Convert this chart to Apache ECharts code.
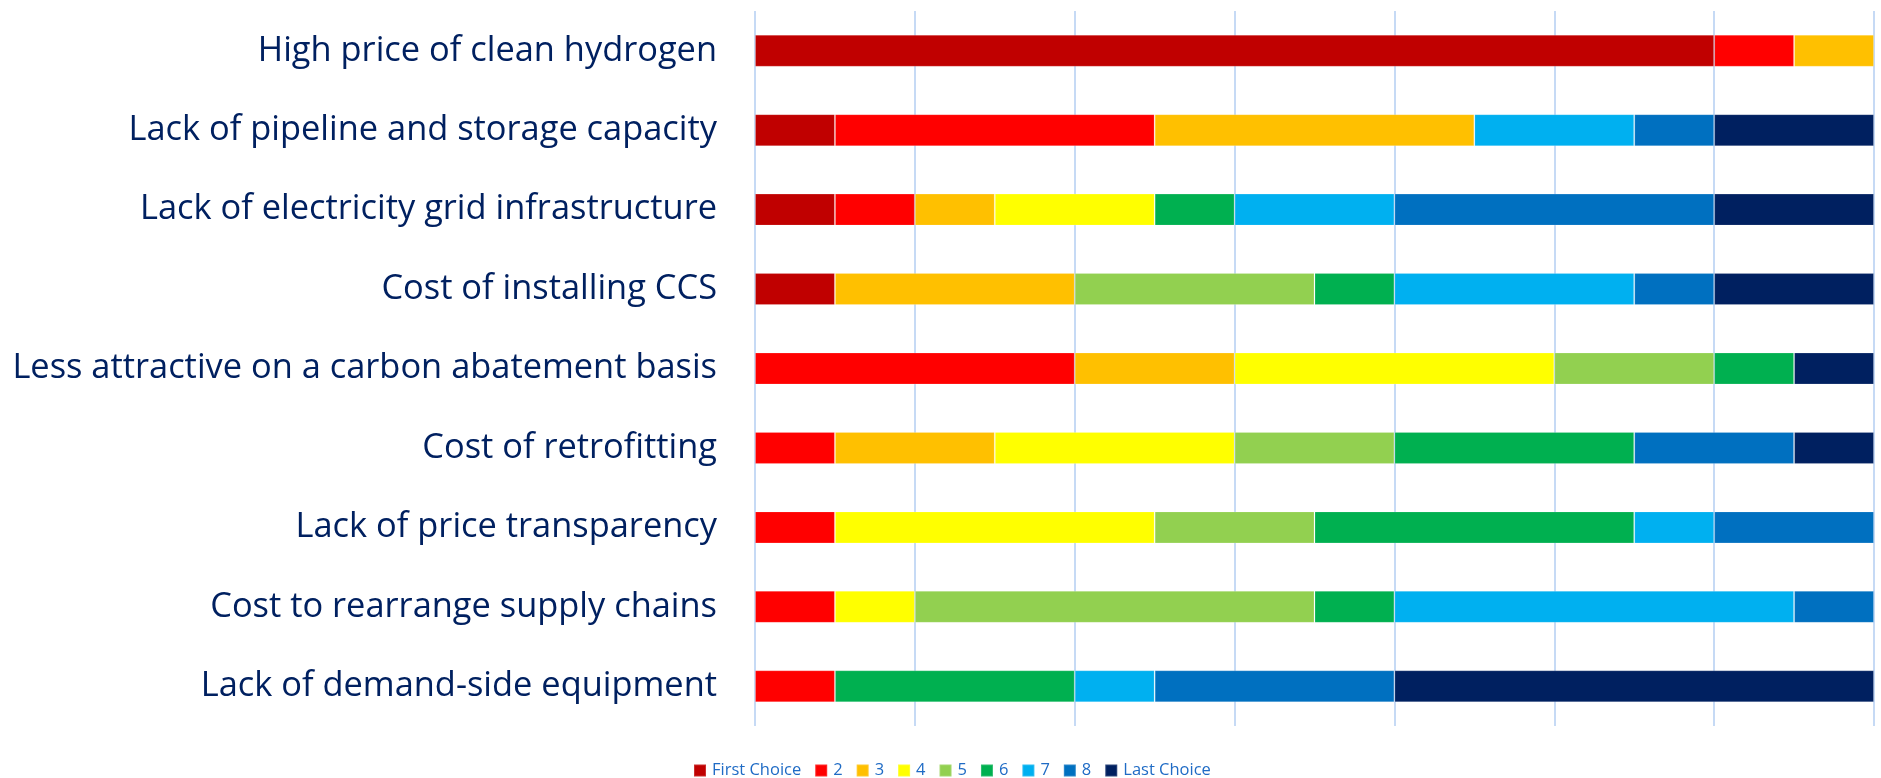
<!DOCTYPE html>
<html><head><meta charset="utf-8">
<script src="https://cdn.jsdelivr.net/npm/echarts@6/dist/echarts.min.js"></script>
<style>html,body{margin:0;padding:0;background:#fff}#c{width:1881px;height:778px}</style>
</head><body><div id="c"></div>
<script>
const categories = [
  "High price of clean hydrogen",
  "Lack of pipeline and storage capacity",
  "Lack of electricity grid infrastructure",
  "Cost of installing CCS",
  "Less attractive on a carbon abatement basis",
  "Cost of retrofitting",
  "Lack of price transparency",
  "Cost to rearrange supply chains",
  "Lack of demand-side equipment"
];
const seriesNames = ["First Choice","2","3","4","5","6","7","8","Last Choice"];
const firstChoice = [12,1,1,1,0,0,0,0,0];
const choice2 = [1,4,1,0,4,1,1,1,1];
const choice3 = [1,4,1,3,2,2,0,0,0];
const choice4 = [0,0,2,0,4,3,4,1,0];
const choice5 = [0,0,0,3,2,2,2,5,0];
const choice6 = [0,0,1,1,1,3,4,1,3];
const choice7 = [0,2,2,3,0,0,1,5,1];
const choice8 = [0,1,4,1,0,2,2,1,3];
const lastChoice = [0,2,2,2,1,1,0,0,6];
const xTicks = {min: 0, max: 14, interval: 2};

const colors = ["#C00000","#FF0000","#FFC000","#FFFF00","#92D050","#00B050","#00B0F0","#0070C0","#002060"];
const allData = [firstChoice,choice2,choice3,choice4,choice5,choice6,choice7,choice8,lastChoice];

// size label font so the longest label spans ~704px
const cv = document.createElement('canvas').getContext('2d');
const fam = '"Open Sans", "Noto Sans", sans-serif';
cv.font = '100px ' + fam;
let maxW = 0;
categories.forEach(c => { maxW = Math.max(maxW, cv.measureText(c).width); });
const labelSize = Math.round(100 * 704 / maxW * 10) / 10;

const chart = echarts.init(document.getElementById('c'), null, {renderer: 'canvas'});
chart.setOption({
  animation: false,
  backgroundColor: '#fff',
  color: colors,
  grid: {left: 755, right: 7, top: 11, bottom: 52},
  legend: {
    top: 757, left: 688,
    itemWidth: 12, itemHeight: 12, itemGap: 13,
    icon: 'rect',
    textStyle: {color: '#1F6BC5', fontSize: 16.5, fontFamily: fam, padding: [0,0,0,1]},
    data: seriesNames
  },
  xAxis: {
    type: 'value', min: xTicks.min, max: xTicks.max, interval: xTicks.interval,
    axisLabel: {show: false}, axisLine: {show: false}, axisTick: {show: false},
    splitLine: {show: true, lineStyle: {color: '#C6DAF5', width: 2}}
  },
  yAxis: {
    type: 'category', inverse: true, data: categories,
    axisLine: {show: false}, axisTick: {show: false},
    axisLabel: {color: '#002060', fontSize: labelSize, fontFamily: fam, margin: 38}
  },
  series: seriesNames.map((n, i) => ({
    name: n, type: 'bar', stack: 'total', barWidth: 32,
    itemStyle: {color: colors[i], borderColor: 'rgba(255,255,255,0.18)', borderWidth: 1},
    data: allData[i].map(v => v === 0 ? null : v)
  }))
});
</script></body></html>
